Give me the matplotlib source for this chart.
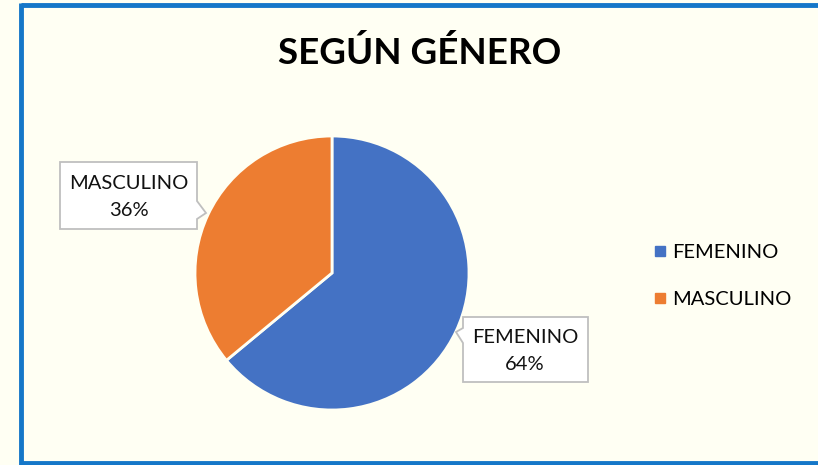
import matplotlib.pyplot as plt
from matplotlib.patches import Polygon
from matplotlib.lines import Line2D

categories = ["FEMENINO", "MASCULINO"]
values = [64, 36]
colors = ["#4472C4", "#ED7D31"]

W, H = 818, 465
bg = "#FFFFF3"
plt.rcParams['font.family'] = ['Lato', 'DejaVu Sans']

fig = plt.figure(figsize=(W / 100, H / 100), dpi=100, facecolor=bg)


def px(x, y):
    # image pixel coords (top-left origin) -> figure fraction
    return (x / W, 1 - y / H)


# chart border: left, top, bottom (right side runs off the image)
for a, b in [((21, 5), (W, 5)), ((21, 3.3), (21, 464.7)), ((21, 463), (W, 463))]:
    (x0, y0), (x1, y1) = px(*a), px(*b)
    fig.add_artist(Line2D([x0, x1], [y0, y1], transform=fig.transFigure,
                          color="#1577C8", linewidth=3.5,
                          solid_capstyle="butt"))

fig.text(*px(420, 53), "SEGÚN GÉNERO", ha="center", va="center",
         fontsize=26.5, fontweight="bold", color="black")

# pie
cx, cy, r = 332, 273, 137
ax = fig.add_axes([(cx - r) / W, (H - cy - r) / H, 2 * r / W, 2 * r / H])
ax.set_facecolor(bg)
wedges, _ = ax.pie(values, colors=colors, startangle=90, counterclock=False,
                   radius=1, wedgeprops=dict(edgecolor=bg, linewidth=2))
ax.set_xlim(-1, 1)
ax.set_ylim(-1, 1)
ax.axis("off")


def callout(pts, text, center):
    poly = Polygon([px(*p) for p in pts], closed=True, transform=fig.transFigure,
                   facecolor="white", edgecolor="#BFBFBF", linewidth=1.3)
    fig.patches.append(poly)
    fig.text(*px(*center), text, ha="center", va="center", fontsize=14.5,
             color="#111111", linespacing=1.75)


# MASCULINO callout (pointer on right side)
callout([(60, 162), (197, 162), (197, 201), (206, 213), (197, 219),
         (197, 229), (60, 229), (60, 162)],
        f"{categories[1]}\n{values[1]}%", (129, 197))

# FEMENINO callout (pointer on left side)
callout([(463, 317), (588, 317), (588, 382), (463, 382), (463, 343),
         (456, 332), (463, 328)],
        f"{categories[0]}\n{values[0]}%", (525, 351))

handles = [Line2D([], [], marker="s", linestyle="none", markersize=7,
                  markerfacecolor=c, markeredgecolor=c) for c in colors]
fig.legend(handles, categories, loc="center left",
           bbox_to_anchor=px(632, 276), frameon=False, fontsize=14.5,
           handletextpad=0.1, labelspacing=1.45, handlelength=1.0)

fig.savefig("out.png", dpi=100, facecolor=bg)
